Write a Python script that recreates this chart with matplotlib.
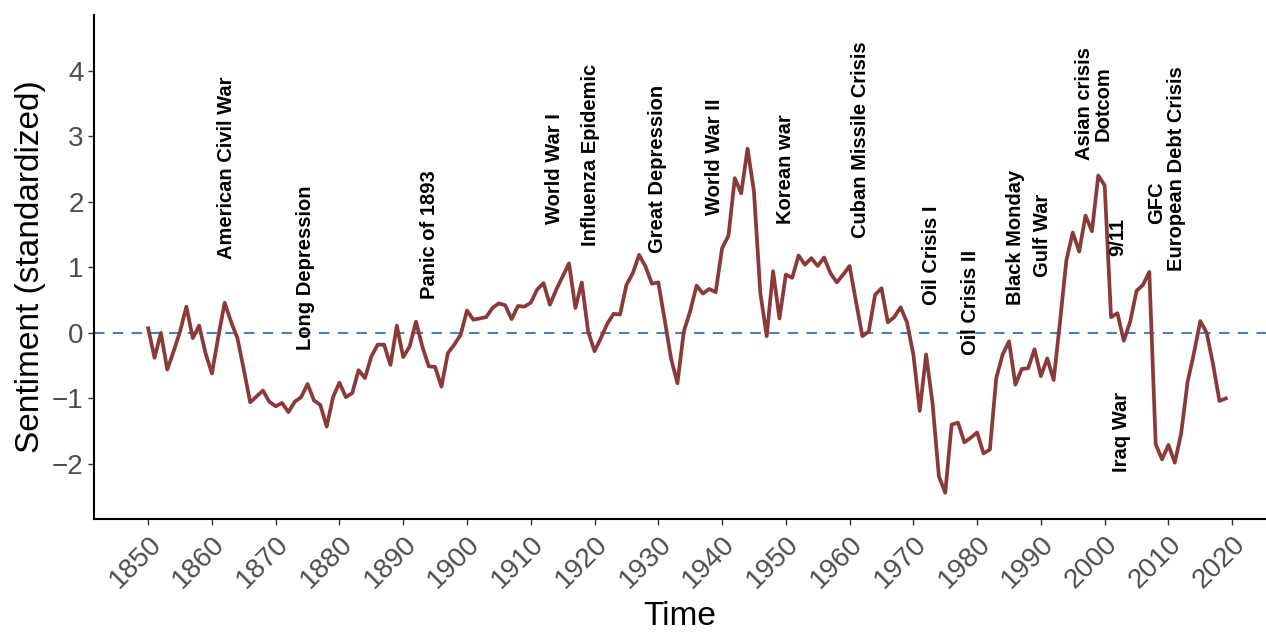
# Librerias
import matplotlib
matplotlib.use("Agg")
import matplotlib.pyplot as plt

# Datos: sentimiento estandarizado por año (1850-2019)
years = list(range(1850, 2020))
sentiment = [
    0.07, -0.38, 0.00, -0.56, -0.28, 0.02, 0.40, -0.08, 0.11, -0.31,    # 1850s
    -0.62, -0.06, 0.46, 0.17, -0.08, -0.56, -1.06, -0.97, -0.88, -1.05,  # 1860s
    -1.12, -1.07, -1.21, -1.05, -0.98, -0.78, -1.03, -1.10, -1.43, -0.98,  # 1870s
    -0.76, -0.98, -0.92, -0.57, -0.69, -0.36, -0.18, -0.18, -0.49, 0.11,  # 1880s
    -0.37, -0.21, 0.17, -0.21, -0.51, -0.52, -0.82, -0.31, -0.18, -0.03,  # 1890s
    0.34, 0.20, 0.22, 0.24, 0.38, 0.45, 0.42, 0.21, 0.41, 0.40,          # 1900s
    0.46, 0.66, 0.76, 0.43, 0.66, 0.86, 1.06, 0.38, 0.77, 0.02,          # 1910s
    -0.28, -0.08, 0.14, 0.29, 0.28, 0.73, 0.91, 1.19, 1.01, 0.75,        # 1920s
    0.77, 0.20, -0.39, -0.77, 0.02, 0.33, 0.72, 0.60, 0.67, 0.62,        # 1930s
    1.29, 1.48, 2.36, 2.13, 2.81, 2.16, 0.61, -0.05, 0.94, 0.22,         # 1940s
    0.89, 0.84, 1.18, 1.04, 1.14, 1.02, 1.15, 0.91, 0.77, 0.89,          # 1950s
    1.02, 0.48, -0.05, 0.02, 0.58, 0.68, 0.16, 0.24, 0.39, 0.16,         # 1960s
    -0.33, -1.19, -0.33, -1.07, -2.19, -2.44, -1.40, -1.37, -1.67, -1.60,  # 1970s
    -1.52, -1.84, -1.78, -0.69, -0.33, -0.13, -0.79, -0.55, -0.54, -0.25,  # 1980s
    -0.66, -0.39, -0.72, 0.17, 1.11, 1.53, 1.24, 1.79, 1.55, 2.40,       # 1990s
    2.25, 0.24, 0.30, -0.12, 0.17, 0.64, 0.73, 0.93, -1.70, -1.93,       # 2000s
    -1.71, -1.98, -1.53, -0.75, -0.31, 0.18, 0.00, -0.48, -1.04, -1.00,  # 2010s
]

# Eventos: texto, año (posicion x), valor (posicion y)
event_names = ["American Civil War", "Long Depression", "Panic of 1893",
               "World War I", "Influenza Epidemic", "Great Depression",
               "World War II", "Korean war", "Cuban Missile Crisis",
               "Oil Crisis I", "Oil Crisis II", "Black Monday", "Gulf War",
               "Asian crisis", "Dotcom", "9/11", "Iraq War", "GFC",
               "European Debt Crisis"]
event_x = [1862.3, 1874.6, 1894.2, 1913.8, 1919.3, 1929.8, 1938.8, 1949.9,
           1961.7, 1972.8, 1978.9, 1986.0, 1990.3, 1996.8, 1999.7, 2002.1,
           2002.7, 2008.2, 2011.3]
event_y = [2.52, 0.99, 1.50, 2.50, 2.71, 2.50, 2.69, 2.50, 2.95, 1.19, 0.46,
           1.45, 1.48, 3.50, 3.49, 1.47, -1.51, 1.99, 2.50]

x_ticks = list(range(1850, 2030, 10))
y_ticks = [-2, -1, 0, 1, 2, 3, 4]

plt.rcParams['font.family'] = ['Liberation Sans', 'DejaVu Sans']

fig = plt.figure(figsize=(12.66, 6.32), dpi=100)
ax = fig.add_axes([0.0742, 0.1788, 0.9258, 0.7975])

# Linea de referencia en cero
ax.axhline(0, color='#4682B4', linestyle=(0, (5, 4)), linewidth=1.5, zorder=1)
# Serie
ax.plot(years, sentiment, color='#8B3A3A', linewidth=2.7, zorder=2)

# Etiquetas de eventos
for name, x, y in zip(event_names, event_x, event_y):
    ax.text(x, y, name, rotation=90, ha='center', va='center',
            fontsize=14.5, fontweight='bold', color='black')

ax.set_xlim(1841.5, 2025.3)
ax.set_ylim(-2.84, 4.85)
ax.set_xticks(x_ticks)
ax.set_yticks(y_ticks)
ax.set_yticklabels(['\u22122', '\u22121', '0', '1', '2', '3', '4'])
for lbl in ax.get_xticklabels():
    lbl.set_rotation(45)
    lbl.set_ha('right')
    lbl.set_rotation_mode('anchor')

ax.tick_params(axis='both', labelsize=20, labelcolor='#4D4D4D',
               color='#333333', length=4, width=1)
ax.tick_params(axis='x', pad=5)
ax.set_xlabel('Time', fontsize=24, labelpad=5)
ax.set_ylabel('Sentiment (standardized)', fontsize=24, labelpad=4)

# Estilo clasico: solo ejes izquierdo e inferior
ax.spines['top'].set_visible(False)
ax.spines['right'].set_visible(False)
ax.spines['left'].set_linewidth(1.5)
ax.spines['bottom'].set_linewidth(1.5)

fig.savefig('out.png', dpi=100)
